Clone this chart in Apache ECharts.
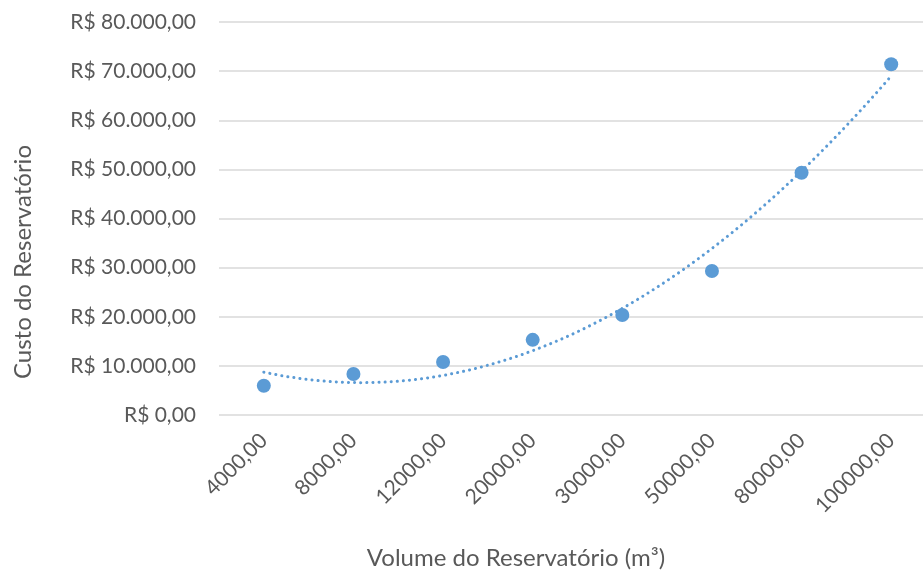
<!DOCTYPE html>
<html><head><meta charset="utf-8">
<script src="https://cdn.jsdelivr.net/npm/echarts@6/dist/echarts.min.js"></script>
<style>html,body{margin:0;padding:0;background:#fff;overflow:hidden;width:923px;height:570px}#c{width:936px;height:570px}</style>
</head><body><div id="c"></div>
<script>
var categories = ['4000,00','8000,00','12000,00','20000,00','30000,00','50000,00','80000,00','100000,00'];
var custo = [5950, 8350, 10800, 15300, 20350, 29300, 49300, 71400];
var yTicks = [0, 10000, 20000, 30000, 40000, 50000, 60000, 70000, 80000];

function fmt(v){
  var s = Math.round(v).toString().replace(/\B(?=(\d{3})+(?!\d))/g,'.');
  return 'R$ ' + s + ',00';
}
// quadratic least-squares trendline (x = 1..n)
function quadFit(ys){
  var n=ys.length,S=[0,0,0,0,0],T=[0,0,0];
  for(var i=0;i<n;i++){var x=i+1;for(var k=0;k<5;k++)S[k]+=Math.pow(x,k);for(var k2=0;k2<3;k2++)T[k2]+=ys[i]*Math.pow(x,k2);}
  var A=[[S[0],S[1],S[2],T[0]],[S[1],S[2],S[3],T[1]],[S[2],S[3],S[4],T[2]]];
  for(var c=0;c<3;c++){for(var r=c+1;r<3;r++){var f=A[r][c]/A[c][c];for(var j=c;j<4;j++)A[r][j]-=f*A[c][j];}}
  var b=[0,0,0];for(var r2=2;r2>=0;r2--){var s=A[r2][3];for(var j2=r2+1;j2<3;j2++)s-=A[r2][j2]*b[j2];b[r2]=s/A[r2][r2];}
  return b;
}
var coef = quadFit(custo);
var trend = [];
for (var t=0; t<=140; t++){ var xi = t/20; var x = xi+1; trend.push([xi, coef[0]+coef[1]*x+coef[2]*x*x]); }

var chart = echarts.init(document.getElementById('c'));
var font = 'Lato, "Open Sans", sans-serif';
chart.setOption({
  animation:false,
  grid:{left:219, top:22, right:0, height:393, containLabel:false},
  xAxis:[{type:'category', data:categories, boundaryGap:true,
    axisLine:{show:false}, axisTick:{show:false},
    axisLabel:{rotate:45, color:'#595959', fontSize:21, fontFamily:font, margin:22, interval:0}},
    {type:'value', min:-0.5, max:7.5, show:false}],
  yAxis:{type:'value', min:0, max:80000, interval:10000,
    axisLine:{show:false}, axisTick:{show:false},
    splitLine:{lineStyle:{color:'#d9d9d9', width:1.5}},
    axisLabel:{formatter:fmt, color:'#595959', fontSize:21, fontFamily:font, margin:23}},
  graphic:[
    {type:'text', x:516, y:558, style:{text:'Volume do Reservatório (m³)', fill:'#595959', font:'24px '+font, textAlign:'center', textVerticalAlign:'middle'}},
    {type:'text', x:23, y:262, rotation:Math.PI/2, style:{text:'Custo do Reservatório', fill:'#595959', font:'24px '+font, textAlign:'center', textVerticalAlign:'middle'}}
  ],
  series:[
    {type:'line', xAxisIndex:1, data:trend, showSymbol:false, smooth:false,
     lineStyle:{color:'#5B9BD5', width:3, type:[0.1,6], cap:'round'}, z:1},
    {type:'scatter', data:custo, symbol:'circle', symbolSize:14, itemStyle:{color:'#5B9BD5', opacity:1}, z:2}
  ]
});
</script></body></html>
